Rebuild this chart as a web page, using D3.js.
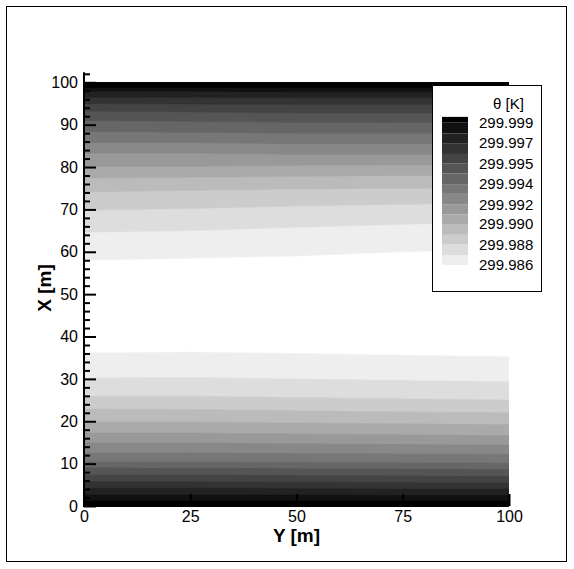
<!DOCTYPE html>
<html>
<head>
<meta charset="utf-8">
<script src="https://cdn.jsdelivr.net/npm/d3@7"></script>
<style>
  html, body { margin: 0; padding: 0; background: #fff; }
  svg { display: block; }
  text { font-family: "Liberation Sans", Arial, sans-serif; }
</style>
</head>
<body>
<script>
// ---- data ----
const sampleY = [0, 25, 50, 75, 100];           // Y [m] positions where contour boundaries were read
const levels = [299.9860, 299.9869, 299.9879, 299.9888, 299.9898, 299.9907, 299.9916, 299.9926,
                299.9935, 299.9945, 299.9954, 299.9963, 299.9973, 299.9982, 299.9992];
const bandColors = ["#eeeeee", "#dddddd", "#cccccc", "#bbbbbb", "#aaaaaa", "#999999", "#888888",
                    "#777777", "#666666", "#555555", "#444444", "#333333", "#222222", "#111111", "#000000"];
// X [m] of each level contour in the upper half (at sampleY)
const upperContours = [
  [58.0, 58.5, 59.0, 60.0, 60.5],
  [64.6, 65.0, 65.8, 66.5, 67.0],
  [69.8, 70.2, 70.8, 71.2, 71.5],
  [74.1, 74.5, 74.8, 75.0, 75.2],
  [77.4, 77.6, 77.8, 78.0, 78.0],
  [80.2, 80.2, 80.4, 80.5, 80.5],
  [83.3, 83.3, 83.0, 83.0, 83.0],
  [85.8, 85.8, 85.5, 85.5, 85.5],
  [88.4, 88.2, 88.0, 88.0, 88.0],
  [91.0, 90.8, 90.6, 90.5, 90.5],
  [93.2, 93.0, 92.8, 92.8, 92.8],
  [95.0, 94.9, 94.8, 94.8, 94.8],
  [96.5, 96.5, 96.4, 96.4, 96.4],
  [97.9, 97.9, 97.8, 97.8, 97.8],
  [98.8, 98.8, 98.8, 98.8, 98.8]
];
// X [m] of each level contour in the lower half (at sampleY)
const lowerContours = [
  [36.1, 36.3, 36.0, 35.6, 35.2],
  [30.2, 30.3, 30.0, 29.6, 29.3],
  [25.9, 25.9, 25.6, 25.3, 25.0],
  [22.9, 22.8, 22.5, 22.2, 22.0],
  [19.8, 19.8, 19.6, 19.4, 19.2],
  [17.2, 17.2, 17.0, 16.8, 16.6],
  [14.9, 14.9, 14.7, 14.5, 14.4],
  [12.5, 12.5, 12.4, 12.3, 12.2],
  [10.4, 10.4, 10.3, 10.2, 10.1],
  [9.0, 8.9, 8.8, 8.7, 8.6],
  [7.3, 7.3, 7.2, 7.1, 7.0],
  [5.7, 5.7, 5.6, 5.5, 5.4],
  [4.2, 4.2, 4.1, 4.0, 4.0],
  [2.6, 2.6, 2.6, 2.5, 2.5],
  [1.2, 1.2, 1.2, 1.2, 1.2]
];
const legendLabels = ["299.999", "299.997", "299.995", "299.994", "299.992", "299.990", "299.988", "299.986"];
const xTickValues = [0, 25, 50, 75, 100];
const yTickValues = [0, 10, 20, 30, 40, 50, 60, 70, 80, 90, 100];
const xTitle = "Y [m]";
const yTitle = "X [m]";
const legendTitle = "θ [K]";

// ---- layout ----
const W = 574, H = 569;
const plot = { left: 84, right: 509, top: 82.3, bottom: 506 };

const svg = d3.select("body").append("svg").attr("width", W).attr("height", H);
svg.append("rect").attr("x", 0).attr("y", 0).attr("width", W).attr("height", H).attr("fill", "#fff");
svg.append("rect").attr("x", 6.5).attr("y", 6.5).attr("width", 560).attr("height", 555)
  .attr("fill", "none").attr("stroke", "#000").attr("stroke-width", 1);

const x = d3.scaleLinear().domain([0, 100]).range([plot.left, plot.right]);
const y = d3.scaleLinear().domain([0, 100]).range([plot.bottom, plot.top]);

svg.append("clipPath").attr("id", "clip").append("rect")
  .attr("x", plot.left).attr("y", plot.top)
  .attr("width", plot.right - plot.left).attr("height", plot.bottom - plot.top);

const field = svg.append("g").attr("clip-path", "url(#clip)");
field.append("rect").attr("x", plot.left).attr("y", plot.top)
  .attr("width", plot.right - plot.left).attr("height", plot.bottom - plot.top).attr("fill", "#fff");

upperContours.forEach((row, i) => {
  const pts = sampleY.map((yy, j) => [yy, row[j]]);
  const area = d3.area().x(d => x(d[0])).y0(y(100)).y1(d => y(d[1]));
  field.append("path").attr("d", area(pts)).attr("fill", bandColors[i]).attr("stroke", bandColors[i]).attr("stroke-width", 0.5);
});
lowerContours.forEach((row, i) => {
  const pts = sampleY.map((yy, j) => [yy, row[j]]);
  const area = d3.area().x(d => x(d[0])).y0(y(0)).y1(d => y(d[1]));
  field.append("path").attr("d", area(pts)).attr("fill", bandColors[i]).attr("stroke", bandColors[i]).attr("stroke-width", 0.5);
});

// ---- axes ----
const yMinor = d3.range(0, 103, 2).filter(v => v % 10 !== 0);
const xMinor = d3.range(0, 101, 5).filter(v => v % 25 !== 0);

const gy = svg.append("g").attr("transform", `translate(${plot.left},0)`);
gy.call(d3.axisLeft(y).tickValues(yTickValues).tickSizeInner(-12).tickSizeOuter(0).tickPadding(6).tickFormat(d3.format("d")));
gy.append("g").call(d3.axisLeft(y).tickValues(yMinor).tickSizeInner(-6).tickSizeOuter(0).tickFormat(""));
gy.selectAll(".domain").remove();
gy.append("line").attr("x1", 0).attr("x2", 0).attr("y1", y(0)).attr("y2", y(102.4)).attr("stroke", "#000").attr("stroke-width", 2);
gy.selectAll(".tick line").attr("stroke", "#000").attr("stroke-width", 2);
gy.selectAll("text").attr("font-size", 16).attr("fill", "#000").attr("font-family", "Liberation Sans, Arial, sans-serif");

const gx = svg.append("g").attr("transform", `translate(0,${plot.bottom})`);
gx.call(d3.axisBottom(x).tickValues(xTickValues).tickSizeInner(-12).tickSizeOuter(0).tickPadding(5).tickFormat(d3.format("d")));
gx.append("g").call(d3.axisBottom(x).tickValues(xMinor).tickSizeInner(-6).tickSizeOuter(0).tickFormat(""));
gx.selectAll(".domain").remove();
gx.append("line").attr("x1", x(0) - 1).attr("x2", x(100)).attr("y1", 0).attr("y2", 0).attr("stroke", "#000").attr("stroke-width", 2);
gx.selectAll(".tick line").attr("stroke", "#000").attr("stroke-width", 2);
gx.selectAll("text").attr("font-size", 16).attr("fill", "#000").attr("font-family", "Liberation Sans, Arial, sans-serif");

svg.append("text").attr("x", (plot.left + plot.right) / 2).attr("y", 542)
  .attr("text-anchor", "middle").attr("font-size", 19).attr("font-weight", "bold").text(xTitle);
svg.append("text").attr("transform", `translate(51,288) rotate(-90)`)
  .attr("text-anchor", "middle").attr("font-size", 19).attr("font-weight", "bold").text(yTitle);

// ---- legend ----
const lg = svg.append("g");
lg.append("rect").attr("x", 432.5).attr("y", 85.5).attr("width", 109).attr("height", 206)
  .attr("fill", "#fff").attr("stroke", "#000").attr("stroke-width", 1);
lg.append("text").attr("x", 493).attr("y", 109).attr("font-size", 15).text(legendTitle);

const ly = d3.scaleLinear().domain([levels[0], levels[levels.length - 1]]).range([265, 122.7]);
const step = levels[1] - levels[0];
bandColors.forEach((c, i) => {
  const lo = levels[i];
  const hi = i < levels.length - 1 ? levels[i + 1] : levels[i] + step * 0.6;
  lg.append("rect").attr("x", 442).attr("y", ly(hi)).attr("width", 26).attr("height", ly(lo) - ly(hi)).attr("fill", c);
});
const legendLevelIdx = [14, 12, 10, 8, 6, 4, 2, 0];
legendLabels.forEach((t, k) => {
  lg.append("text").attr("x", 479).attr("y", ly(levels[legendLevelIdx[k]])).attr("dy", "0.35em")
    .attr("font-size", 15).text(t);
});
</script>
</body>
</html>
